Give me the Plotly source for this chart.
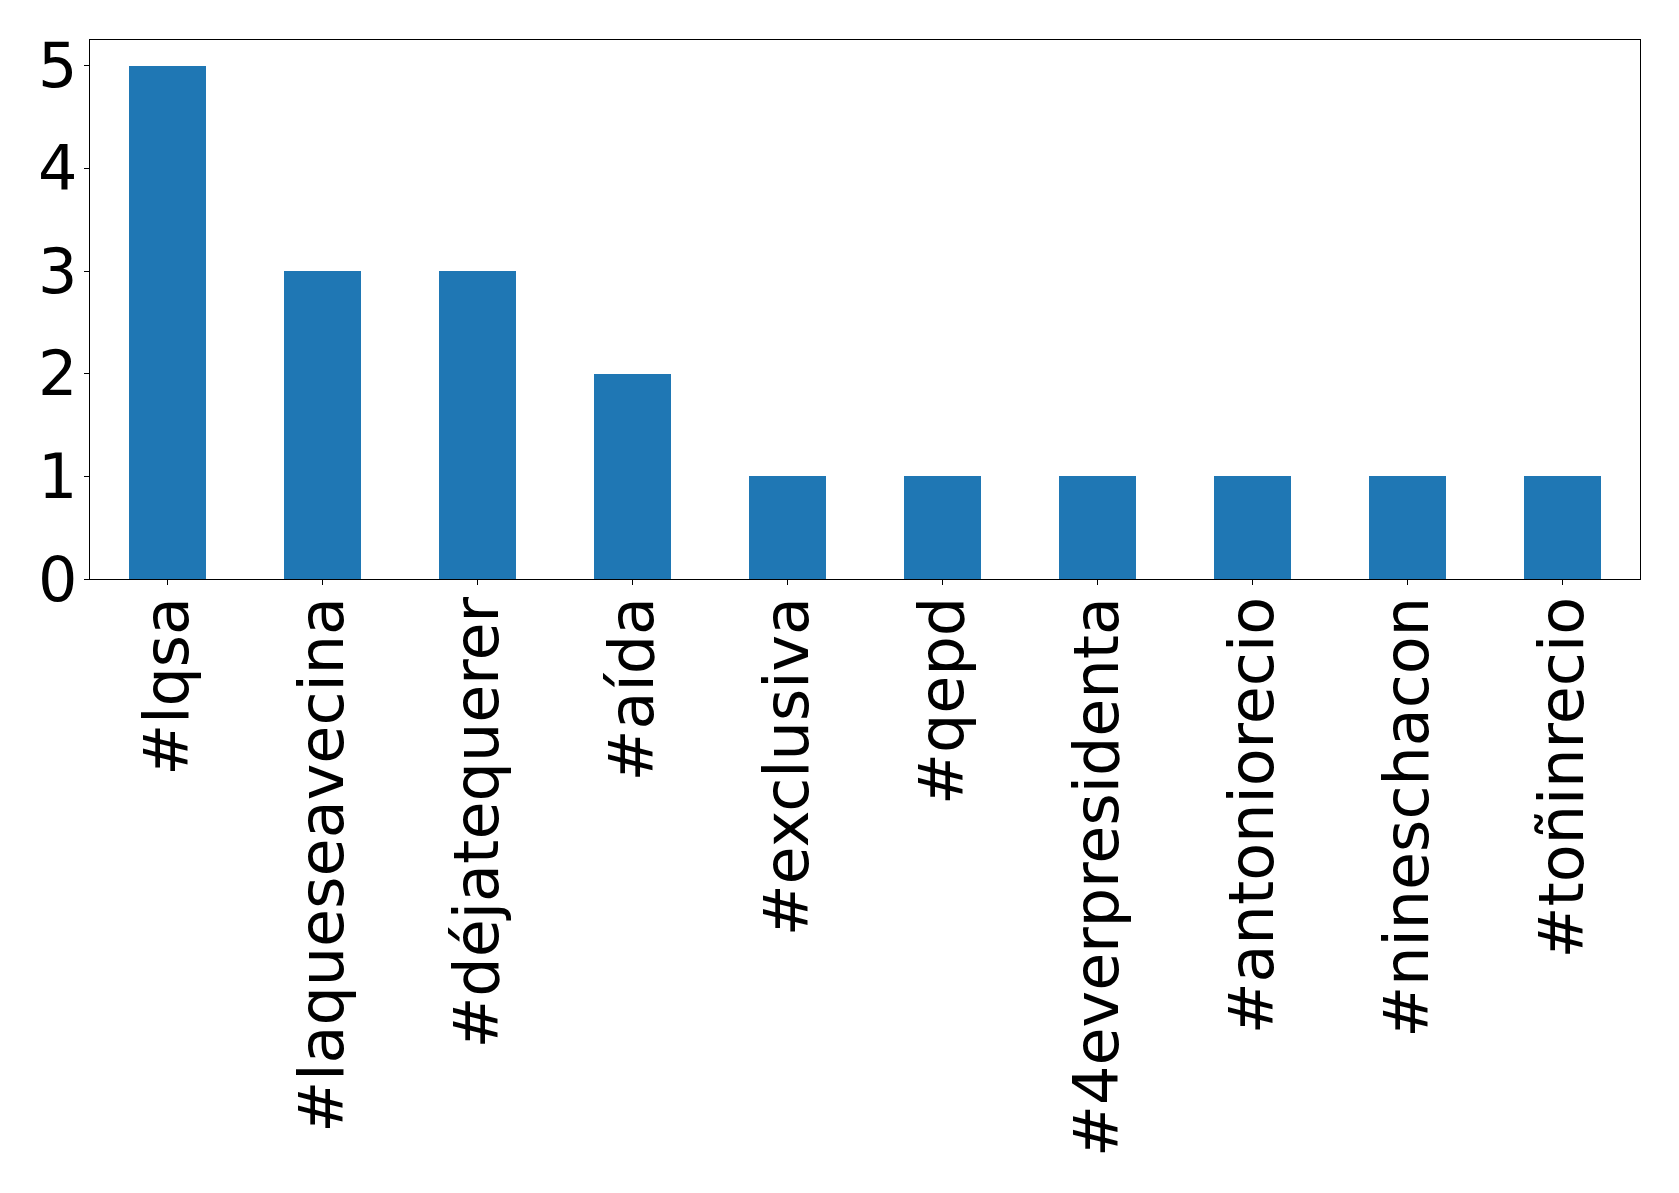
import plotly.graph_objects as go

hashtags = ["#lqsa", "#laqueseavecina", "#déjatequerer", "#aída", "#exclusiva",
            "#qepd", "#4everpresidenta", "#antoniorecio", "#nineschacon", "#toñinrecio"]
counts = [5, 3, 3, 2, 1, 1, 1, 1, 1, 1]
y_ticks = [0, 1, 2, 3, 4, 5]

fig = go.Figure()
fig.add_trace(go.Bar(
    x=list(range(len(hashtags))), y=counts, width=0.5,
    marker=dict(color="#1f77b4", line=dict(width=0)),
))

fig.update_layout(
    width=1671, height=1185,
    margin=dict(l=82, r=39, t=32, b=614, pad=0),
    paper_bgcolor="white", plot_bgcolor="white",
    showlegend=False,
    font=dict(family="DejaVu Sans", color="black"),
    bargap=0,
)
fig.update_xaxes(
    range=[-0.5, 9.5], tickmode="array", tickvals=list(range(len(hashtags))),
    ticktext=hashtags, tickangle=-90, tickfont=dict(size=62, family="DejaVu Sans", color="black"),
    showline=True, linecolor="black", linewidth=1.2, mirror=True,
    ticks="outside", ticklen=5, tickwidth=1, tickcolor="black",
    showgrid=False, zeroline=False, ticklabelstandoff=-13,
)
fig.update_yaxes(
    range=[0, 5.25], tickmode="array", tickvals=y_ticks,
    ticktext=[str(v) for v in y_ticks], tickfont=dict(size=62, family="DejaVu Sans", color="black"),
    showline=True, linecolor="black", linewidth=1.2, mirror=True,
    ticks="outside", ticklen=5, tickwidth=1, tickcolor="black",
    showgrid=False, zeroline=False, ticklabelstandoff=-6,
)

fig.write_html("out.html")
